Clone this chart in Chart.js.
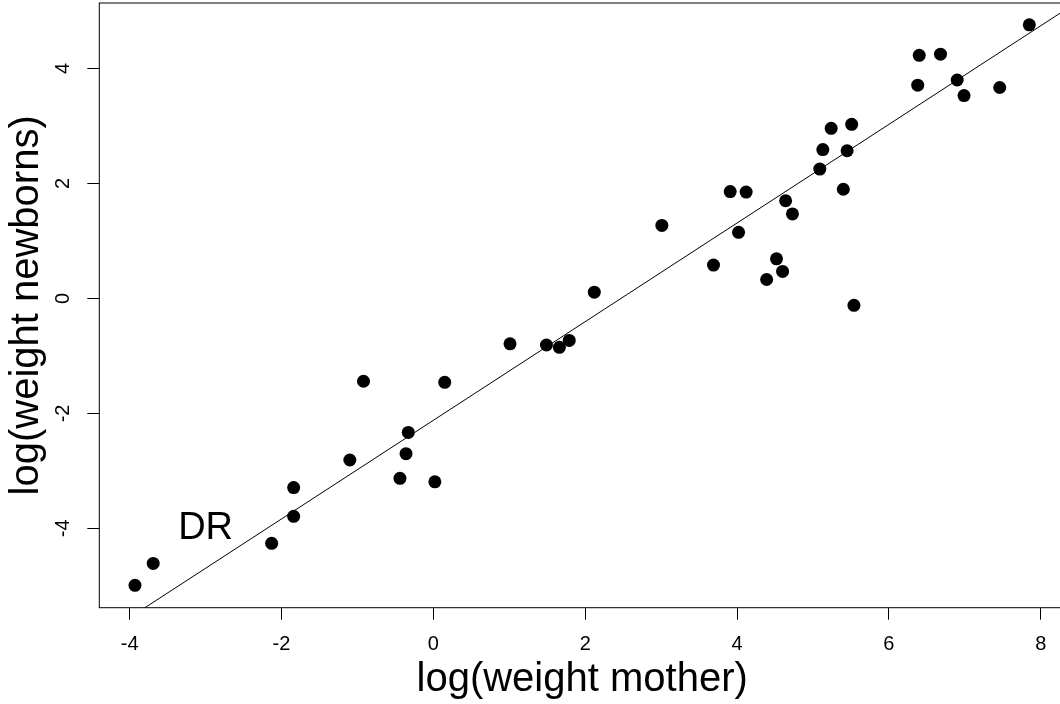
<!DOCTYPE html>
<html>
<head>
<meta charset="utf-8">
<title>log(weight newborns) vs log(weight mother)</title>
<script src="https://cdn.jsdelivr.net/npm/chart.js@4.4.1/dist/chart.umd.min.js"></script>
<style>
  html, body { margin:0; padding:0; background:#fff; overflow:hidden; }
  #wrap { width:1075px; height:704px; position:relative; }
</style>
</head>
<body>
<div id="wrap"><canvas id="plot"></canvas></div>
<script>
// DATA
const mother  = [-3.93,-3.69,-2.13,-1.84,-1.84,-1.10,-0.33,-0.36,-0.44, 0.02,-0.92, 0.15,
                  1.01, 1.49, 1.66, 1.79, 2.12, 3.01, 7.85, 6.40, 6.68, 6.38, 6.90, 6.99,
                  7.46, 5.24, 5.51, 5.13, 5.45, 5.09, 5.40, 3.91, 4.12, 4.64, 4.73, 4.02,
                  3.69, 4.52, 4.60, 4.39, 5.54];
const newborn = [-4.99,-4.61,-4.26,-3.29,-3.79,-2.81,-2.33,-2.70,-3.13,-3.19,-1.44,-1.46,
                 -0.79,-0.81,-0.85,-0.73, 0.11, 1.27, 4.76, 4.23, 4.25, 3.71, 3.80, 3.53,
                  3.67, 2.96, 3.03, 2.59, 2.57, 2.25, 1.90, 1.86, 1.85, 1.70, 1.47, 1.15,
                  0.58, 0.69, 0.47, 0.33,-0.12];
const xTicks = [-4,-2,0,2,4,6,8];
const yTicks = [-4,-2,0,2,4];
const xRange = [-4.40, 8.32];
const yRange = [-5.38, 5.14];
// fitted line: newborn = fitA + fitB * mother
const fitA = -2.12, fitB = 0.858;
const note = {text:"DR", x:-3, y:-4};
const xTitle = "log(weight mother)";
const yTitle = "log(weight newborns)";

const FONT = "'Liberation Sans', Arial, Helvetica, sans-serif";
Chart.defaults.font.family = FONT;
Chart.defaults.color = "#000";

const points = mother.map((m,i)=>({x:m, y:newborn[i]}));
const fitLine = [xRange[0]-1, xRange[1]+1].map(x=>({x, y:fitA+fitB*x}));

// box around the plot + the text label
const boxPlugin = {
  id:"box",
  afterDatasetsDraw(chart){
    const {ctx, chartArea:a, scales} = chart;
    ctx.save();
    ctx.strokeStyle="#000"; ctx.lineWidth=1;
    ctx.strokeRect(a.left, a.top, a.right-a.left, a.bottom-a.top);
    ctx.fillStyle="#000";
    ctx.font="38px "+FONT;
    ctx.textAlign="center"; ctx.textBaseline="middle";
    ctx.fillText(note.text, scales.x.getPixelForValue(note.x), scales.y.getPixelForValue(note.y));
    ctx.restore();
  }
};

function fixX(s){ s.height=96.3; s.paddingLeft=0; s.paddingRight=0; }
function fixY(s){ s.width=99.3; s.paddingTop=0; s.paddingBottom=0; }

new Chart(document.getElementById("plot"), {
  type:"scatter",
  data:{
    datasets:[
      {data:points, backgroundColor:"#000", borderWidth:0, pointRadius:6.5, pointHoverRadius:6.5},
      {type:"line", data:fitLine, borderColor:"#000", borderWidth:1, pointRadius:0, fill:false, tension:0}
    ]
  },
  options:{
    responsive:true, maintainAspectRatio:false, animation:false,
    layout:{autoPadding:false, padding:{top:3, right:10, bottom:0, left:0}},
    plugins:{legend:{display:false}, tooltip:{enabled:false}},
    events:[],
    scales:{
      x:{
        type:"linear", min:xRange[0], max:xRange[1],
        afterBuildTicks:s=>{ s.ticks=xTicks.map(v=>({value:v})); },
        afterFit:fixX,
        border:{display:false},
        grid:{drawOnChartArea:false, drawTicks:true, tickLength:12, color:"#000", lineWidth:1},
        ticks:{font:{size:20}, padding:13, maxRotation:0, callback:v=>String(v)},
        title:{display:true, text:xTitle, font:{size:40}, padding:{top:0, bottom:0}}
      },
      y:{
        type:"linear", min:yRange[0], max:yRange[1],
        afterBuildTicks:s=>{ s.ticks=yTicks.map(v=>({value:v})); },
        afterFit:fixY,
        border:{display:false},
        grid:{drawOnChartArea:false, drawTicks:true, tickLength:12, color:"#000", lineWidth:1},
        ticks:{font:{size:20}, padding:15, minRotation:90, maxRotation:90, crossAlign:"center", callback:v=>String(v)},
        title:{display:true, text:yTitle, font:{size:40}, padding:{top:3, bottom:0}}
      }
    }
  },
  plugins:[boxPlugin]
});
</script>
</body>
</html>
